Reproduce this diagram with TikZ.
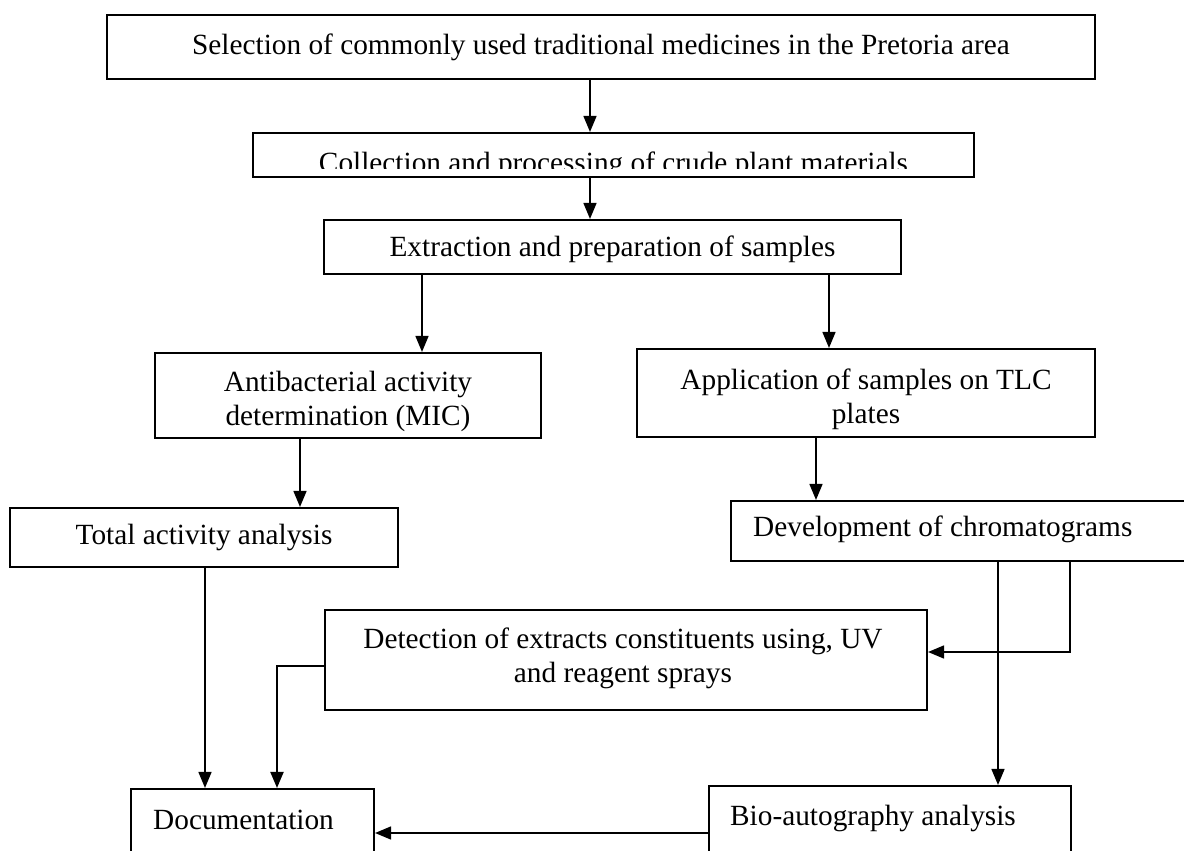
\documentclass[tikz,border=0pt]{standalone}
\usepackage{fontspec}
\setmainfont{Liberation Serif}
\usetikzlibrary{arrows.meta}
\begin{document}
\begin{tikzpicture}[x=1pt,y=-1pt,
  box/.style={draw, line width=2.1pt, rectangle, inner sep=0pt, align=center,
    font=\fontsize{29.3}{35}\selectfont},
  arr/.style={line width=1.5pt, -{Triangle[length=16pt,width=13pt]}},
  txt/.style={inner sep=0pt, align=center, font=\fontsize{29.3}{34}\selectfont}]
\useasboundingbox (0,0) rectangle (1184,851);
\clip (0,0) rectangle (1184,851);
\fill[white] (0,0) rectangle (1184,851);

% boxes
\node[box, minimum width=988pt, minimum height=64pt] (sel) at (601,47)
  {Selection of commonly used traditional medicines in the Pretoria area};
\node[box, minimum width=721pt, minimum height=44pt] (col) at (613.5,155) {};
\begin{scope}
  \clip (253,133) rectangle (974,168);
  \node[txt, anchor=base] (coltext) at (613.5,172) {Collection and processing of crude plant materials};
\end{scope}
\node[box, minimum width=577pt, minimum height=54pt] (ext) at (612.5,247) {};
\node[txt] (exttext) at (612.5,249) {Extraction and preparation of samples};
\node[box, minimum width=386pt, minimum height=85pt] (anti) at (348,395.5) {};
\node[txt] (antitext) at (348,401) {Antibacterial activity\\determination (MIC)};
\node[box, minimum width=458pt, minimum height=88pt] (app) at (866,393) {};
\node[txt] (apptext) at (866,399) {Application of samples on TLC\\plates};
\node[box, minimum width=388pt, minimum height=59pt] (tot) at (204,537.5)
  {Total activity analysis};
\node[box, minimum width=469pt, minimum height=60pt] (dev) at (965.5,531) {};
\node[txt, anchor=west] (devtext) at (753,529) {Development of chromatograms};
\node[box, minimum width=602pt, minimum height=100pt] (det) at (626,660) {};
\node[txt] (dettext) at (623,658) {Detection of extracts constituents using, UV\\and reagent sprays};
\node[box, minimum width=243pt, minimum height=111pt] (doc) at (252.5,844.5) {};
\node[txt, anchor=west] (doctext) at (153,820) {Documentation};
\node[box, minimum width=362pt, minimum height=114pt] (bio) at (890,843) {};
\node[txt, anchor=west] (biotext) at (730,818) {Bio-autography analysis};

% connectors
\draw[arr] (sel.south -| 590,0) -- (col.north -| 590,0);
\draw[arr] (col.south -| 590,0) -- (ext.north -| 590,0);
\draw[arr] (ext.south -| 422,0) -- (anti.north -| 422,0);
\draw[arr] (ext.south -| 829,0) -- (app.north -| 829,0);
\draw[arr] (anti.south -| 300,0) -- (tot.north -| 300,0);
\draw[arr] (app.south -| 816,0) -- (dev.north -| 816,0);
\draw[arr] (dev.south -| 998,0) -- (bio.north -| 998,0);
\draw[arr] (dev.south -| 1070,0) |- (det.east |- 0,652);
\draw[arr] (tot.south -| 205,0) -- (doc.north -| 205,0);
\draw[arr, line width=2pt] (det.west |- 0,666) -| (doc.north -| 277,0);
\draw[arr] (bio.west |- 0,833) -- (doc.east |- 0,833);
\end{tikzpicture}
\end{document}
